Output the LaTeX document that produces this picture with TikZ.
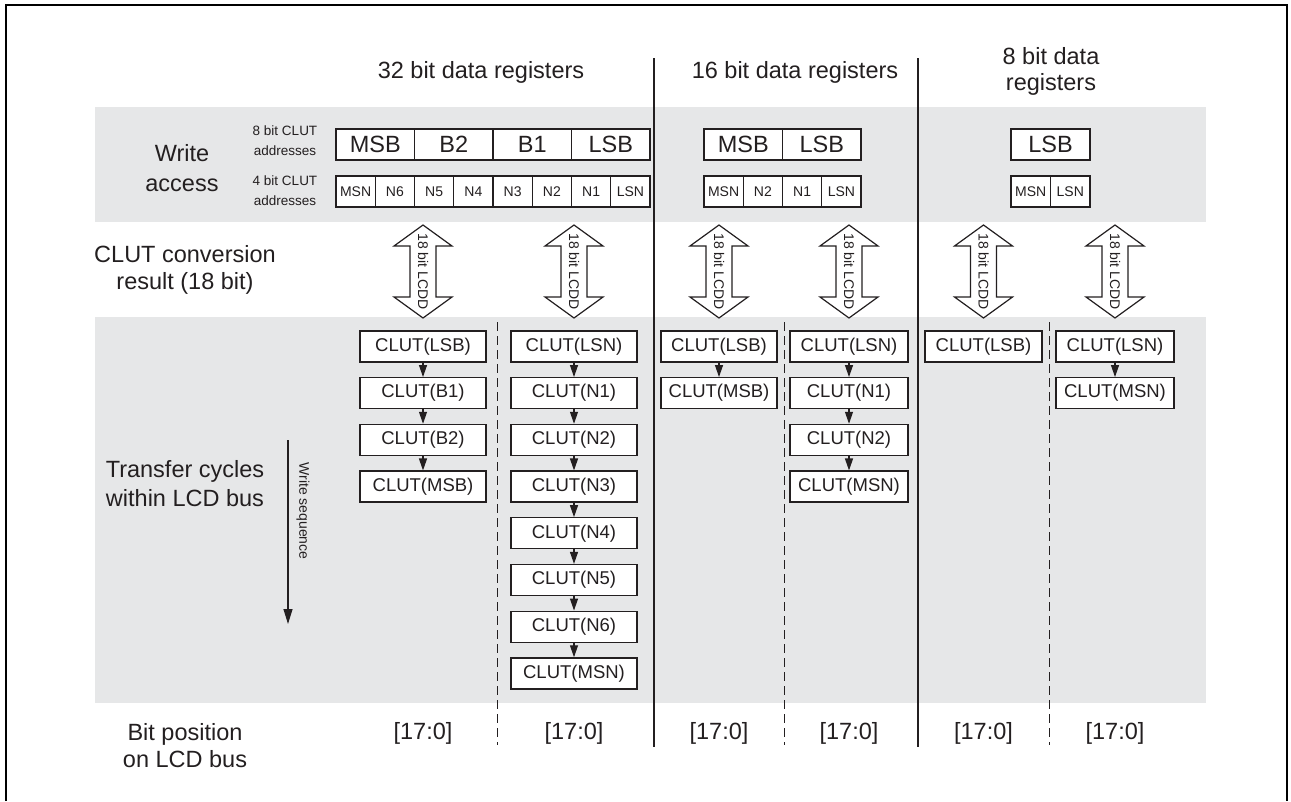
\documentclass[tikz,border=0pt]{standalone}
\usepackage{fontspec}
\setmainfont{Liberation Sans}
\usetikzlibrary{arrows.meta}
\definecolor{ink}{HTML}{231F20}
\definecolor{band}{HTML}{E6E7E8}
\begin{document}
\begin{tikzpicture}[x=1pt,y=-1pt,
  every node/.style={text=ink, inner sep=0pt},
  big/.style={font=\fontsize{23.5}{28}\selectfont, align=center},
  small/.style={font=\fontsize{13.5}{20}\selectfont, align=center},
  cellA/.style={draw=ink, line width=1.3pt, fill=white, minimum height=31pt, minimum width=#1, font=\fontsize{23.5}{28}\selectfont},
  cellA/.default=78.5pt,
  cellB/.style={draw=ink, line width=1.3pt, fill=white, minimum height=31pt, minimum width=#1, font=\fontsize{14}{16}\selectfont},
  cellB/.default=39.25pt,
  clut/.style={draw=ink, line width=1.3pt, fill=white, minimum height=31pt, minimum width=#1, font=\fontsize{18.5}{20}\selectfont},
  clut/.default=126pt,
  seq/.style={draw=ink, line width=1.2pt, -{Triangle[length=12pt,width=8pt]}},
  sepline/.style={draw=ink, line width=1.1pt},
  dashline/.style={draw=ink, line width=1pt, dash pattern=on 9pt off 5pt},
  fatarrow/.style={draw=ink, line width=1.2pt, fill=white},
  lcdd/.style={font=\fontsize{14}{16}\selectfont, rotate=-90},
  frame/.style={draw=black, line width=2.5pt}
]
\useasboundingbox (0,0) rectangle (1291,801);
% frame
\draw[frame] (6,801) -- (6,5) -- (1287,5) -- (1287,801);
% bands
\fill[band] (95,107) rectangle (1206,222);
\fill[band] (95,317) rectangle (1206,703);
% separators
\coordinate (s1t) at (654,58); \coordinate (s1b) at (654,747);
\coordinate (s2t) at (918,58); \coordinate (s2b) at (918,747);
\draw[sepline] (s1t) -- (s1b);
\draw[sepline] (s2t) -- (s2b);
\foreach \x [count=\i] in {497,784,1049} {
  \coordinate (d\i t) at (\x,322); \coordinate (d\i b) at (\x,745);
  \draw[dashline] (d\i t) -- (d\i b);
}
% titles
\node[big] (t32) at (481,72) {32 bit data registers};
\node[big] (t16) at (795,72) {16 bit data registers};
\node[font=\fontsize{23.5}{26}\selectfont, align=center] (t8) at (1051,71) {8 bit data\\registers};
% left labels
\node[font=\fontsize{23.5}{30}\selectfont, align=center] (lwa) at (182,168) {Write\\access};
\node[small] (l8) at (285,141) {8 bit CLUT\\addresses};
\node[small] (l4) at (285,190.5) {4 bit CLUT\\addresses};
\node[font=\fontsize{23.5}{27}\selectfont, align=center] (lcc) at (185,270) {CLUT conversion\\result (18 bit)};
\node[font=\fontsize{23.5}{29}\selectfont, align=center] (ltc) at (185,484) {Transfer cycles\\within LCD bus};
\node[font=\fontsize{23.5}{27}\selectfont, align=center] (lbp) at (185,746) {Bit position\\on LCD bus};
% write access cells
\foreach \lab [count=\i from 0] in {MSB,B2,B1,LSB}
  \node[cellA] (wa\i) at ({375.25+78.5*\i},144.5) {\lab};
\foreach \lab [count=\i from 0] in {MSN,N6,N5,N4,N3,N2,N1,LSN}
  \node[cellB] (wb\i) at ({355.625+39.25*\i},191.5) {\lab};
\foreach \lab [count=\i from 0] in {MSB,LSB}
  \node[cellA] (wc\i) at ({743.25+78.5*\i},144.5) {\lab};
\foreach \lab [count=\i from 0] in {MSN,N2,N1,LSN}
  \node[cellB] (wd\i) at ({723.625+39.25*\i},191.5) {\lab};
\node[cellA=79pt] (we0) at (1050.5,144.5) {LSB};
\node[cellB=39.5pt] (wf0) at (1030.75,191.5) {MSN};
\node[cellB=39.5pt] (wf1) at (1070.25,191.5) {LSN};
% fat double arrows
\foreach \cx [count=\i] in {423,574,719,849,983.5,1115} {
  \draw[fatarrow] (\cx,225) -- (\cx+29,246) -- (\cx+13,246) -- (\cx+13,297)
     -- (\cx+29,297) -- (\cx,318) -- (\cx-29,297) -- (\cx-13,297)
     -- (\cx-13,246) -- (\cx-29,246) -- cycle;
  \node[lcdd] (lcd\i) at (\cx,271.5) {18 bit LCDD};
  \node[big] (bp\i) at (\cx,733) {[17:0]};
}
% CLUT chains
\foreach \col/\cx/\w/\list in {a/423/126pt/{LSB,B1,B2,MSB},
    b/574/126pt/{LSN,N1,N2,N3,N4,N5,N6,MSN},
    c/719/116pt/{LSB,MSB},
    d/849/118pt/{LSN,N1,N2,MSN},
    e/983.5/117pt/{LSB},
    f/1115/118pt/{LSN,MSN}} {
  \foreach \lab [count=\k from 0] in \list {
    \node[clut=\w] (\col\k) at (\cx,{346.5+46.7*\k}) {CLUT(\lab)};
    \ifnum\k>0
      \pgfmathtruncatemacro\km{\k-1}
      \draw[seq] (\col\km.south) -- (\col\k.north);
    \fi
  }
}
% write sequence
\coordinate (ws1) at (288,440);
\coordinate (ws2) at (288,624);
\draw[draw=ink, line width=1.2pt, -{Triangle[length=15pt,width=9pt]}] (ws1) -- (ws2);
\node[font=\fontsize{14}{16}\selectfont, rotate=-90] (wsl) at (303,511) {Write sequence};
\end{tikzpicture}
\end{document}
